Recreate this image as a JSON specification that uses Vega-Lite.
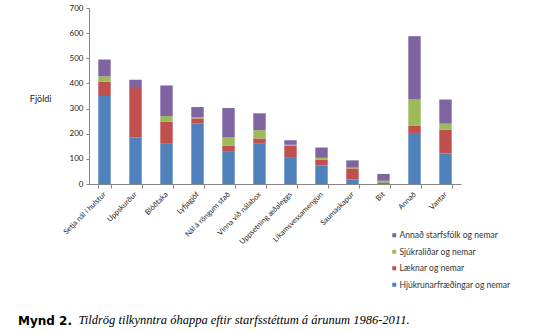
{
  "$schema": "https://vega.github.io/schema/vega-lite/v6.json",
  "width": 372,
  "height": 176,
  "autosize": "none",
  "padding": {"left": 89, "top": 8, "right": 89, "bottom": 148},
  "background": "white",
  "title": {
    "text": "Mynd 2.",
    "orient": "bottom",
    "anchor": "start",
    "frame": "group",
    "dx": -71,
    "offset": -10,
    "font": "DejaVu Sans",
    "fontSize": 12,
    "fontWeight": "bold",
    "color": "#000000"
  },
  "data": {
    "values": [
      {"cat": "Setja nál í hulstur", "Hjúkrunarfræðingar og nemar": 350, "Læknar og nemar": 57, "Sjúkraliðar og nemar": 21, "Annað starfsfólk og nemar": 67},
      {"cat": "Uppskurður", "Hjúkrunarfræðingar og nemar": 185, "Læknar og nemar": 197, "Sjúkraliðar og nemar": 0, "Annað starfsfólk og nemar": 33},
      {"cat": "Blóðtaka", "Hjúkrunarfræðingar og nemar": 160, "Læknar og nemar": 87, "Sjúkraliðar og nemar": 23, "Annað starfsfólk og nemar": 122},
      {"cat": "Lyfjagjöf", "Hjúkrunarfræðingar og nemar": 240, "Læknar og nemar": 21, "Sjúkraliðar og nemar": 4, "Annað starfsfólk og nemar": 41},
      {"cat": "Nál á röngum stað", "Hjúkrunarfræðingar og nemar": 128, "Læknar og nemar": 24, "Sjúkraliðar og nemar": 33, "Annað starfsfólk og nemar": 117},
      {"cat": "Vinna við nálabox", "Hjúkrunarfræðingar og nemar": 160, "Læknar og nemar": 21, "Sjúkraliðar og nemar": 33, "Annað starfsfólk og nemar": 67},
      {"cat": "Uppsetning æðaleggs", "Hjúkrunarfræðingar og nemar": 107, "Læknar og nemar": 46, "Sjúkraliðar og nemar": 3, "Annað starfsfólk og nemar": 18},
      {"cat": "Líkamsvessamengun", "Hjúkrunarfræðingar og nemar": 74, "Læknar og nemar": 22, "Sjúkraliðar og nemar": 8, "Annað starfsfólk og nemar": 41},
      {"cat": "Saumaskapur", "Hjúkrunarfræðingar og nemar": 18, "Læknar og nemar": 44, "Sjúkraliðar og nemar": 3, "Annað starfsfólk og nemar": 29},
      {"cat": "Bit", "Hjúkrunarfræðingar og nemar": 4, "Læknar og nemar": 0, "Sjúkraliðar og nemar": 9, "Annað starfsfólk og nemar": 27},
      {"cat": "Annað", "Hjúkrunarfræðingar og nemar": 203, "Læknar og nemar": 28, "Sjúkraliðar og nemar": 105, "Annað starfsfólk og nemar": 252},
      {"cat": "Vantar", "Hjúkrunarfræðingar og nemar": 121, "Læknar og nemar": 95, "Sjúkraliðar og nemar": 24, "Annað starfsfólk og nemar": 96}
    ]
  },
  "transform": [
    {"fold": ["Hjúkrunarfræðingar og nemar", "Læknar og nemar", "Sjúkraliðar og nemar", "Annað starfsfólk og nemar"], "as": ["group", "value"]},
    {"window": [{"op": "row_number", "as": "stackpos"}], "groupby": ["cat"]}
  ],
  "mark": {"type": "bar"},
  "encoding": {
    "x": {
      "field": "cat",
      "type": "nominal",
      "sort": null,
      "scale": {"paddingInner": 0.6, "paddingOuter": 0.3},
      "axis": {
        "title": "Tildrög tilkynntra óhappa eftir starfsstéttum á árunum 1986-2011.",
        "titleX": -11,
        "titleY": 139,
        "titleAlign": "left",
        "titleAnchor": null,
        "titleBaseline": "alphabetic",
        "titleFont": "Liberation Serif",
        "titleFontSize": 12.5,
        "titleFontStyle": "italic",
        "titleFontWeight": "normal",
        "titleColor": "#000000",
        "labelAngle": -45,
        "labelAlign": "right",
        "labelBaseline": "middle",
        "labelFont": "Lato",
        "labelFontSize": 7.5,
        "labelColor": "#222222",
        "labelPadding": 5,
        "tickBand": "extent",
        "tickSize": 4,
        "tickColor": "#868686",
        "domainColor": "#868686",
        "labelOverlap": false
      }
    },
    "y": {
      "field": "value",
      "type": "quantitative",
      "stack": "zero",
      "scale": {"domain": [0, 700], "nice": false},
      "axis": {
        "values": [0, 100, 200, 300, 400, 500, 600, 700],
        "grid": false,
        "title": "Fjöldi",
        "titleAngle": 0,
        "titleAlign": "right",
        "titleBaseline": "middle",
        "titleX": -38,
        "titleY": 90,
        "titleFont": "Lato",
        "titleFontSize": 9,
        "titleFontWeight": "normal",
        "titleColor": "#222222",
        "labelFont": "Lato",
        "labelFontSize": 8,
        "labelColor": "#222222",
        "labelPadding": 3,
        "tickSize": 3,
        "tickColor": "#868686",
        "domainColor": "#868686"
      }
    },
    "color": {
      "field": "group",
      "type": "nominal",
      "scale": {
        "domain": ["Hjúkrunarfræðingar og nemar", "Læknar og nemar", "Sjúkraliðar og nemar", "Annað starfsfólk og nemar"],
        "range": ["#4F81BD", "#C0504D", "#9BBB59", "#8064A2"]
      },
      "legend": {
        "title": null,
        "orient": "none",
        "legendX": 301,
        "legendY": 223,
        "values": ["Annað starfsfólk og nemar", "Sjúkraliðar og nemar", "Læknar og nemar", "Hjúkrunarfræðingar og nemar"],
        "symbolType": "square",
        "symbolSize": 16,
        "symbolStrokeWidth": 0,
        "labelFont": "Lato",
        "labelFontSize": 8.5,
        "labelColor": "#333333",
        "labelOffset": 1,
        "rowPadding": 7.5
      }
    },
    "order": {"field": "stackpos", "type": "quantitative", "sort": "ascending"}
  },
  "config": {"view": {"stroke": null}}
}
